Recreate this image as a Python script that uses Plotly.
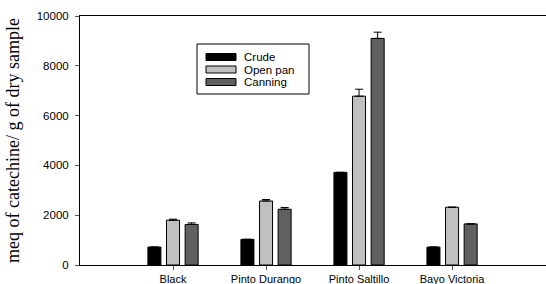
import plotly.graph_objects as go

categories = ["Black", "Pinto Durango", "Pinto Saltillo", "Bayo Victoria"]
positions = [1, 2, 3, 4]
crude = [720, 1030, 3720, 720]
crude_err = [0, 0, 0, 0]
open_pan = [1800, 2570, 6780, 2320]
open_pan_err = [40, 60, 280, 0]
canning = [1630, 2240, 9100, 1650]
canning_err = [60, 70, 250, 0]
series_names = ["Crude", "Open pan", "Canning"]
y_ticks = [0, 2000, 4000, 6000, 8000, 10000]

colors = ["#000000", "#c0c0c0", "#606060"]
offsets = [-0.2, 0.0, 0.2]

W, H = 546, 284
L, R, T, B = 80, 0, 16, 19
PW, PH = W - L - R, H - T - B

def px_x(x):
    return (x - L) / PW

def px_y(y):
    return (H - B - y) / PH

fig = go.Figure()
for name, vals, errs, col, off in zip(series_names, [crude, open_pan, canning],
                                      [crude_err, open_pan_err, canning_err], colors, offsets):
    fig.add_trace(go.Bar(
        x=[p + off for p in positions], y=vals, name=name, width=0.14,
        marker=dict(color=col, line=dict(color="#000000", width=1)),
        error_y=dict(type="data", symmetric=False, array=errs, arrayminus=[0]*len(errs),
                     color="#000000", thickness=1, width=4, visible=True),
        showlegend=False,
    ))

# custom legend box
shapes = [dict(type="rect", xref="paper", yref="paper",
               x0=px_x(197), x1=px_x(309), y0=px_y(94), y1=px_y(44),
               line=dict(color="#000", width=1), fillcolor="white", layer="above")]
annotations = []
for i, (name, col) in enumerate(zip(series_names, colors)):
    yc = 57 + i * 12.5
    shapes.append(dict(type="rect", xref="paper", yref="paper",
                       x0=px_x(206), x1=px_x(236), y0=px_y(yc + 3.5), y1=px_y(yc - 3.5),
                       line=dict(color="#000", width=1), fillcolor=col, layer="above"))
    annotations.append(dict(x=px_x(242), y=px_y(yc), xref="paper", yref="paper",
                            text=name, showarrow=False, xanchor="left", yanchor="middle",
                            font=dict(family="Liberation Sans, Arial", size=11.5, color="#000")))

fig.update_layout(
    width=W, height=H,
    margin=dict(l=L, r=R, t=T, b=B, autoexpand=False),
    plot_bgcolor="white", paper_bgcolor="white",
    shapes=shapes, annotations=annotations,
    font=dict(family="Liberation Sans, Arial", size=11, color="#000"),
)
fig.update_xaxes(range=[0, 5.01], tickvals=positions, ticktext=categories,
                 showline=True, linecolor="#000", linewidth=1, mirror=True,
                 ticks="outside", ticklen=4, tickcolor="#555", showgrid=False, zeroline=False,
                 automargin=False, ticklabelstandoff=0,
                 tickfont=dict(size=11, family="Liberation Sans, Arial"))
fig.update_yaxes(range=[0, 10000], tickvals=y_ticks, ticktext=[str(v) for v in y_ticks],
                 showline=True, linecolor="#000", linewidth=1, mirror=False,
                 ticks="outside", ticklen=4, tickcolor="#555", showgrid=False, zeroline=False,
                 automargin=False, ticklabelstandoff=4,
                 tickfont=dict(size=11.5, family="Liberation Sans, Arial"),
                 title=dict(text="meq of catechine/ g of dry sample", standoff=12,
                            font=dict(family="Liberation Serif, Times New Roman", size=18)))
fig.write_html("out.html", config={"displayModeBar": False},
               post_script="document.body.style.margin='0';document.body.style.overflow='hidden';")
